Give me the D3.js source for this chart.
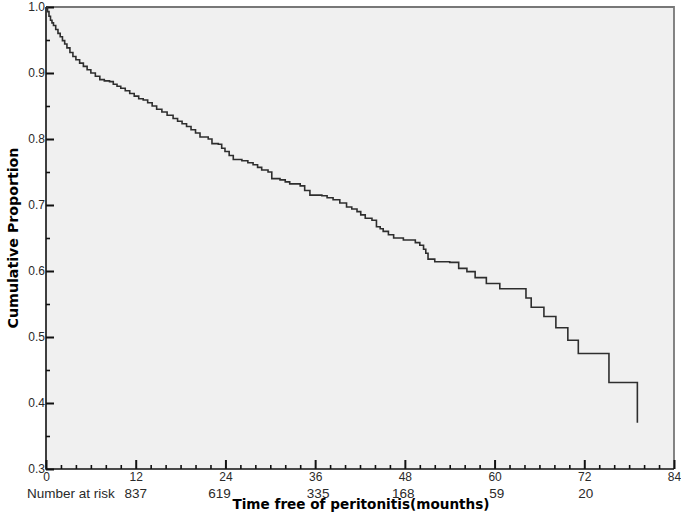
<!DOCTYPE html>
<meta charset="utf-8">
<style>
  body { margin: 0; background: #fff; }
</style>
<svg class="chart"></svg>

<script src="https://d3js.org/d3.v7.min.js"></script>
<script>
// Kaplan-Meier estimate (month, cumulative proportion)
months = [0, 0.2, 0.4, 0.6, 0.8, 1.0, 1.3, 1.6, 1.9, 2.2, 2.5, 2.8, 3.2, 3.6, 4.0, 4.5, 5.0, 5.5,
  6.0, 6.6, 7.2, 7.8, 8.5, 9.0, 9.5, 10.0, 10.6, 11.2, 11.8, 12.4, 13.0, 13.6, 14.2, 14.8, 15.5,
  16.2, 17.0, 17.6, 18.2, 18.8, 19.4, 20.0, 20.6, 21.7, 22.2, 23.05, 23.5, 23.94, 24.5, 25.05,
  26.2, 27.0, 27.7, 28.3, 28.85, 29.7, 30.2, 31.3, 32.0, 32.6, 34.0, 34.6, 35.3, 36.9, 37.6,
  38.4, 39.3, 40.2, 40.9, 41.6, 42.1, 42.7, 43.6, 44.2, 44.7, 45.1, 45.8, 46.5, 47.8, 49.4,
  50.0, 50.5, 50.8, 51.1, 52.0, 54.0, 55.2, 56.3, 57.4, 58.9, 60.7, 64.2, 64.9, 66.6, 68.2,
  69.8, 71.2, 75.3, 79.1]
survival = [1.0, 0.993, 0.986, 0.980, 0.976, 0.972, 0.966, 0.960, 0.955, 0.949, 0.944, 0.938,
  0.931, 0.925, 0.920, 0.915, 0.910, 0.905, 0.900, 0.895, 0.890, 0.888, 0.887, 0.883, 0.880,
  0.877, 0.873, 0.869, 0.865, 0.861, 0.859, 0.855, 0.850, 0.845, 0.841, 0.836, 0.831, 0.827,
  0.823, 0.819, 0.814, 0.809, 0.803, 0.800, 0.793, 0.792, 0.786, 0.781, 0.775, 0.769, 0.767,
  0.764, 0.761, 0.757, 0.753, 0.750, 0.740, 0.738, 0.735, 0.732, 0.729, 0.722, 0.715, 0.714,
  0.711, 0.708, 0.703, 0.697, 0.694, 0.690, 0.685, 0.680, 0.677, 0.667, 0.664, 0.660, 0.655,
  0.650, 0.647, 0.643, 0.639, 0.633, 0.627, 0.618, 0.614, 0.613, 0.604, 0.599, 0.590, 0.581,
  0.573, 0.559, 0.545, 0.531, 0.514, 0.495, 0.475, 0.431, 0.370]

xTicks = [0, 12, 24, 36, 48, 60, 72, 84]
xMinor = [2, 4, 6, 8, 10, 14, 16, 18, 20, 22, 26, 28, 30, 32, 34, 38, 40, 42, 44, 46,
  50, 52, 54, 56, 58, 62, 64, 66, 68, 70, 74, 76, 78, 80, 82]
yTicks = [0.3, 0.4, 0.5, 0.6, 0.7, 0.8, 0.9, 1.0]
yMinor = [0.35, 0.45, 0.55, 0.65, 0.75, 0.85, 0.95]

// number at risk row (position along the time axis, count)
riskTimes  = [12, 23.2, 36.4, 47.8, 60.3, 72.2]
riskCounts = [837, 619, 335, 168, 59, 20]

width  = 681
height = 516
margin = ({top: 7, right: 6, bottom: 47, left: 46})

font = "Liberation Sans, Arial, sans-serif"
boldFont = "DejaVu Sans, Verdana, sans-serif"

data = months.map((m, i) => ({t: m, s: survival[i]}))

x = d3.scaleLinear()
    .domain([0, 84])
    .range([margin.left, width - margin.right - 1])

y = d3.scaleLinear()
    .domain([0.3, 1.0])
    .range([height - margin.bottom, margin.top])

const svg = d3.select("svg")
    .attr("width", width)
    .attr("height", height)
    .style("display", "block")
    .attr("viewBox", [0, 0, width, height]);

// plot background
svg.append("rect")
    .attr("x", x(0)).attr("y", y(1))
    .attr("width", x(84) - x(0)).attr("height", y(0.3) - y(1))
    .attr("fill", "#f0f0f0");

// frame: top / right in grey, left / bottom in black
svg.append("path")
    .attr("d", `M${x(0)},${y(1)}H${x(84)}V${y(0.3)}`)
    .attr("fill", "none").attr("stroke", "#777").attr("stroke-width", 1.8);
svg.append("path")
    .attr("d", `M${x(0)},${y(1)}V${y(0.3)}H${x(84)}`)
    .attr("fill", "none").attr("stroke", "#111").attr("stroke-width", 1.6);

// y axis: major ticks with labels, minor ticks without, all pointing inward
svg.append("g")
    .attr("transform", `translate(${x(0)},0)`)
    .call(d3.axisLeft(y).tickValues(yMinor).tickSizeInner(-4).tickSizeOuter(0).tickFormat(""))
    .call(g => g.select(".domain").remove())
    .call(g => g.selectAll(".tick line").style("stroke", "#111").style("stroke-width", "1.6px"));

svg.append("g")
    .attr("transform", `translate(${x(0)},0)`)
    .call(d3.axisLeft(y).tickValues(yTicks).tickSizeInner(-8).tickSizeOuter(0).tickPadding(1)
        .tickFormat(d3.format(".1f")))
    .call(g => g.select(".domain").remove())
    .call(g => g.selectAll(".tick line").style("stroke", "#111").style("stroke-width", "2px"))
    .call(g => g.selectAll(".tick text").attr("x", -1).attr("font-size", 12)
        .attr("fill", "#2a2a2a").attr("font-family", font));

// x axis
svg.append("g")
    .attr("transform", `translate(0,${y(0.3)})`)
    .call(d3.axisBottom(x).tickValues(xMinor).tickSizeInner(-4).tickSizeOuter(0).tickFormat(""))
    .call(g => g.select(".domain").remove())
    .call(g => g.selectAll(".tick line").style("stroke", "#111").style("stroke-width", "1.6px"));

svg.append("g")
    .attr("transform", `translate(0,${y(0.3)})`)
    .call(d3.axisBottom(x).tickValues(xTicks).tickSizeInner(-9).tickSizeOuter(0).tickPadding(3))
    .call(g => g.select(".domain").remove())
    .call(g => g.selectAll(".tick line").style("stroke", "#111").style("stroke-width", "2px"))
    .call(g => g.selectAll(".tick text").attr("y", 3).attr("font-size", 12)
        .attr("fill", "#2a2a2a").attr("font-family", font));

// survival curve
line = d3.line()
    .x(d => x(d.t))
    .y(d => y(d.s))
    .curve(d3.curveStepAfter);

svg.append("path")
    .datum(data)
    .attr("fill", "none")
    .attr("stroke", "#2e2e2e")
    .attr("stroke-width", 1.6)
    .attr("d", line);

// number at risk
svg.append("text")
    .attr("x", 27).attr("y", 498)
    .attr("font-family", font)
    .attr("font-size", 13.5).attr("fill", "#2a2a2a")
    .text("Number at risk");

svg.append("g")
  .selectAll("text")
  .data(riskCounts)
  .join("text")
    .attr("x", (d, i) => x(riskTimes[i]))
    .attr("y", 498)
    .attr("text-anchor", "middle")
    .attr("font-family", font)
    .attr("font-size", 13.5).attr("fill", "#2a2a2a")
    .text(d => d);

// axis titles
svg.append("text")
    .attr("x", (x(0) + x(84)) / 2 + 1).attr("y", 509)
    .attr("text-anchor", "middle")
    .attr("font-family", boldFont)
    .attr("font-size", 13.6).attr("font-weight", "bold").attr("fill", "#000")
    .text("Time free of peritonitis(mounths)");

svg.append("text")
    .attr("transform", `translate(18,${(y(1) + y(0.3)) / 2}) rotate(-90)`)
    .attr("text-anchor", "middle")
    .attr("font-family", boldFont)
    .attr("font-size", 14.2).attr("font-weight", "bold").attr("fill", "#000")
    .text("Cumulative Proportion");
</script>
